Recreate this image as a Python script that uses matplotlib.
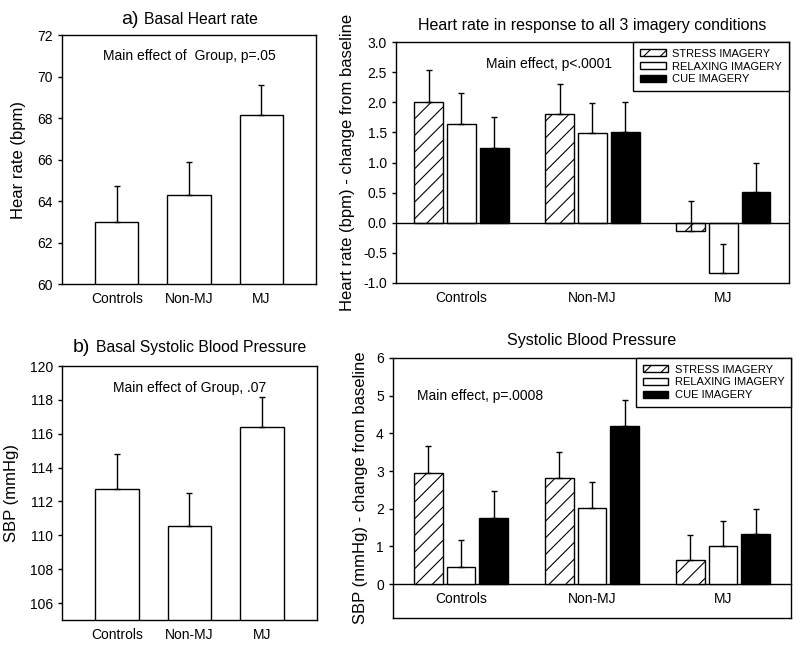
import matplotlib
matplotlib.use("Agg")
import matplotlib.pyplot as plt
import numpy as np

plt.rcParams['font.family'] = ['Liberation Sans', 'DejaVu Sans']
plt.rcParams['hatch.linewidth'] = 0.8
plt.rcParams['axes.linewidth'] = 1.0

groups = ['Controls', 'Non-MJ', 'MJ']
conditions = ['STRESS IMAGERY', 'RELAXING IMAGERY', 'CUE IMAGERY']

# basal heart rate (bpm), upper error only
basal_hr = [63.0, 64.3, 68.15]
basal_hr_err = [1.7, 1.6, 1.45]

# heart rate change from baseline per imagery condition
hr_stress = [2.01, 1.81, -0.13]
hr_relax = [1.64, 1.49, -0.83]
hr_cue = [1.24, 1.51, 0.51]
hr_stress_err = [0.52, 0.49, 0.49]
hr_relax_err = [0.52, 0.50, 0.48]
hr_cue_err = [0.52, 0.50, 0.48]

# basal systolic blood pressure (mmHg)
basal_sbp = [112.72, 110.54, 116.37]
basal_sbp_err = [2.1, 1.94, 1.8]

# SBP change from baseline
sbp_stress = [2.96, 2.82, 0.63]
sbp_relax = [0.44, 2.03, 1.01]
sbp_cue = [1.76, 4.20, 1.34]
sbp_stress_err = [0.71, 0.68, 0.66]
sbp_relax_err = [0.72, 0.67, 0.67]
sbp_cue_err = [0.71, 0.68, 0.65]

fig = plt.figure(figsize=(8.0, 6.49), dpi=100)
ax1 = fig.add_axes([0.0775, 0.5624, 0.3175, 0.3836])
ax2 = fig.add_axes([0.495, 0.564, 0.491, 0.371])
ax3 = fig.add_axes([0.0775, 0.0447, 0.3185, 0.3913])
ax4 = fig.add_axes([0.491, 0.0478, 0.498, 0.4006])

ekw = dict(elinewidth=1, capthick=1, ecolor='black')


def basal_panel(ax, vals, errs, ylim, yticks, ylabel, note):
    x = np.arange(len(groups))
    ax.bar(x, vals, width=0.6, color='white', edgecolor='black', linewidth=1,
           yerr=[np.zeros(len(vals)), errs], capsize=2, error_kw=ekw)
    ax.set_xlim(-0.76, 2.76)
    ax.set_ylim(*ylim)
    ax.set_yticks(yticks)
    ax.set_xticks(x)
    ax.set_xticklabels(groups, fontsize=10)
    ax.tick_params(axis='x', length=0, pad=6)
    ax.tick_params(axis='y', labelsize=10, length=3, width=1)
    ax.set_ylabel(ylabel, fontsize=12, labelpad=8)
    ax.text(0.5, 0.915, note, transform=ax.transAxes, ha='center', va='center', fontsize=10)


def change_panel(ax, series, errs, ylim, yticks, ylabel, xlim):
    x = np.arange(len(groups))
    hatches = ['//', None, None]
    colors = ['white', 'white', 'black']
    for k, (vals, e) in enumerate(zip(series, errs)):
        ax.bar(x + (k - 1) * 0.25, vals, width=0.22, color=colors[k], edgecolor='black',
               linewidth=1, hatch=hatches[k], label=conditions[k],
               yerr=[np.zeros(len(vals)), e], capsize=2, error_kw=ekw)
    ax.set_xlim(*xlim)
    ax.set_ylim(*ylim)
    ax.set_yticks(yticks)
    ax.tick_params(axis='y', labelsize=10, length=3, width=1)
    ax.set_ylabel(ylabel, fontsize=12, labelpad=6)
    leg = ax.legend(loc='upper right', borderaxespad=0, fancybox=False, edgecolor='black',
                    framealpha=1, fontsize=8, handlelength=2.3, handleheight=0.6,
                    labelspacing=0.25, borderpad=0.6, handletextpad=0.6)
    leg.get_frame().set_linewidth(1)


basal_panel(ax1, basal_hr, basal_hr_err, (60, 72), np.arange(60, 73, 2),
            'Hear rate (bpm)', 'Main effect of  Group, p=.05')
basal_panel(ax3, basal_sbp, basal_sbp_err, (105, 120), np.arange(106, 121, 2),
            'SBP (mmHg)', 'Main effect of Group, .07')

change_panel(ax2, [hr_stress, hr_relax, hr_cue], [hr_stress_err, hr_relax_err, hr_cue_err],
             (-1.0, 3.0), np.arange(-1.0, 3.01, 0.5),
             'Heart rate (bpm) - change from baseline', (-0.5, 2.5))
ax2.yaxis.set_major_formatter(matplotlib.ticker.FormatStrFormatter('%.1f'))
ax2.axhline(0, color='black', linewidth=1)
ax2.set_xticks(np.arange(len(groups)))
ax2.set_xticklabels(groups, fontsize=10)
ax2.tick_params(axis='x', length=0, pad=6)
ax2.set_title('Heart rate in response to all 3 imagery conditions', fontsize=11.5, pad=9)
ax2.text(0.39, 0.91, 'Main effect, p<.0001', transform=ax2.transAxes, ha='center',
         va='center', fontsize=10)

change_panel(ax4, [sbp_stress, sbp_relax, sbp_cue], [sbp_stress_err, sbp_relax_err, sbp_cue_err],
             (-0.9, 6.0), np.arange(0, 7, 1),
             'SBP (mmHg) - change from baseline', (-0.52, 2.52))
ax4.set_xticks([])
sec = ax4.secondary_xaxis(0, transform=ax4.transData)
sec.set_xticks(np.arange(len(groups)))
sec.set_xticklabels(groups, fontsize=10)
sec.tick_params(axis='x', length=0, pad=6)
sec.spines['bottom'].set_linewidth(1)
ax4.set_title('Systolic Blood Pressure', fontsize=11.5, pad=9)
ax4.text(0.06, 0.855, 'Main effect, p=.0008', transform=ax4.transAxes, ha='left',
         va='center', fontsize=10)

fig.text(121 / 800, 1 - 24 / 649, 'a)', fontsize=14, ha='left', va='baseline')
fig.text(144 / 800, 1 - 24 / 649, 'Basal Heart rate', fontsize=11.3, ha='left', va='baseline')
fig.text(73 / 800, 1 - 352 / 649, 'b)', fontsize=14, ha='left', va='baseline')
fig.text(96 / 800, 1 - 352 / 649, 'Basal Systolic Blood Pressure', fontsize=11.3, ha='left',
         va='baseline')

fig.savefig('out.png', dpi=100)
